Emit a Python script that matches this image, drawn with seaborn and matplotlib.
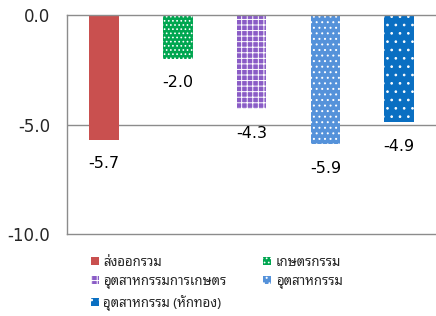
import matplotlib
matplotlib.use("Agg")
import matplotlib.pyplot as plt
from matplotlib.patches import Patch
import seaborn as sns
import pandas as pd

# data
categories = ["ส่งออกรวม", "เกษตรกรรม", "อุตสาหกรรมการเกษตร", "อุตสาหกรรม", "อุตสาหกรรม (หักทอง)"]
values = [-5.7, -2.0, -4.3, -5.9, -4.9]
y_ticks = [0.0, -5.0, -10.0]

colors = ["#C9504F", "#00A650", "#8A5CC6", "#5592DA", "#0A6FC2"]
hatches = ["", "....", "+++", "...", ".."]

sns.set_theme(style="white")
plt.rcParams["font.family"] = ["DejaVu Sans"]
plt.rcParams["axes.unicode_minus"] = False
plt.rcParams["hatch.linewidth"] = 0.7
thai_font = ["Noto Sans Thai Looped", "DejaVu Sans"]

df = pd.DataFrame({"category": categories, "value": values})

fig = plt.figure(figsize=(4.36, 3.16), dpi=100)
ax = fig.add_axes([0.154, 0.2595, 0.846, 0.693])

sns.barplot(data=df, x="category", y="value", hue="category", order=categories,
            palette=dict(zip(categories, colors)), width=0.4, legend=False,
            saturation=1, ax=ax)

for patch, h in zip(ax.patches, hatches):
    patch.set_hatch(h)
    patch.set_edgecolor("white")
    patch.set_linewidth(0)

for patch, v in zip(ax.patches, values):
    x = patch.get_x() + patch.get_width() / 2
    ax.annotate(f"{v:.1f}", (x, v), xytext=(0, -12), textcoords="offset points",
                ha="center", va="top", fontsize=11.5, color="black")

ax.set_ylim(-10, 0)
ax.set_yticks(y_ticks)
ax.set_yticklabels([f"{t:.1f}" for t in y_ticks], fontsize=12)
ax.tick_params(axis="y", length=0, pad=12)
ax.set_xticks([])
ax.set_xlabel("")
ax.set_ylabel("")

grid_c = "#8C8C8C"
ax.axhline(-5, color=grid_c, lw=1, zorder=0)
for s in ["left", "bottom", "top"]:
    ax.spines[s].set_color(grid_c)
    ax.spines[s].set_linewidth(1)
ax.spines["right"].set_visible(False)

handles = [Patch(facecolor=c, hatch=h, edgecolor="white", linewidth=0)
           for c, h in zip(colors, hatches)]
order = [0, 2, 4, 1, 3]
fig.legend([handles[i] for i in order], [categories[i] for i in order],
           loc="upper left", bbox_to_anchor=(0.208, 0.19), ncol=2,
           frameon=False, prop={"family": thai_font, "size": 9.5},
           handlelength=0.6, handleheight=0.6, handletextpad=0.35,
           columnspacing=2.8, labelspacing=0.45, borderpad=0, borderaxespad=0)

fig.savefig("out.png", dpi=100)
